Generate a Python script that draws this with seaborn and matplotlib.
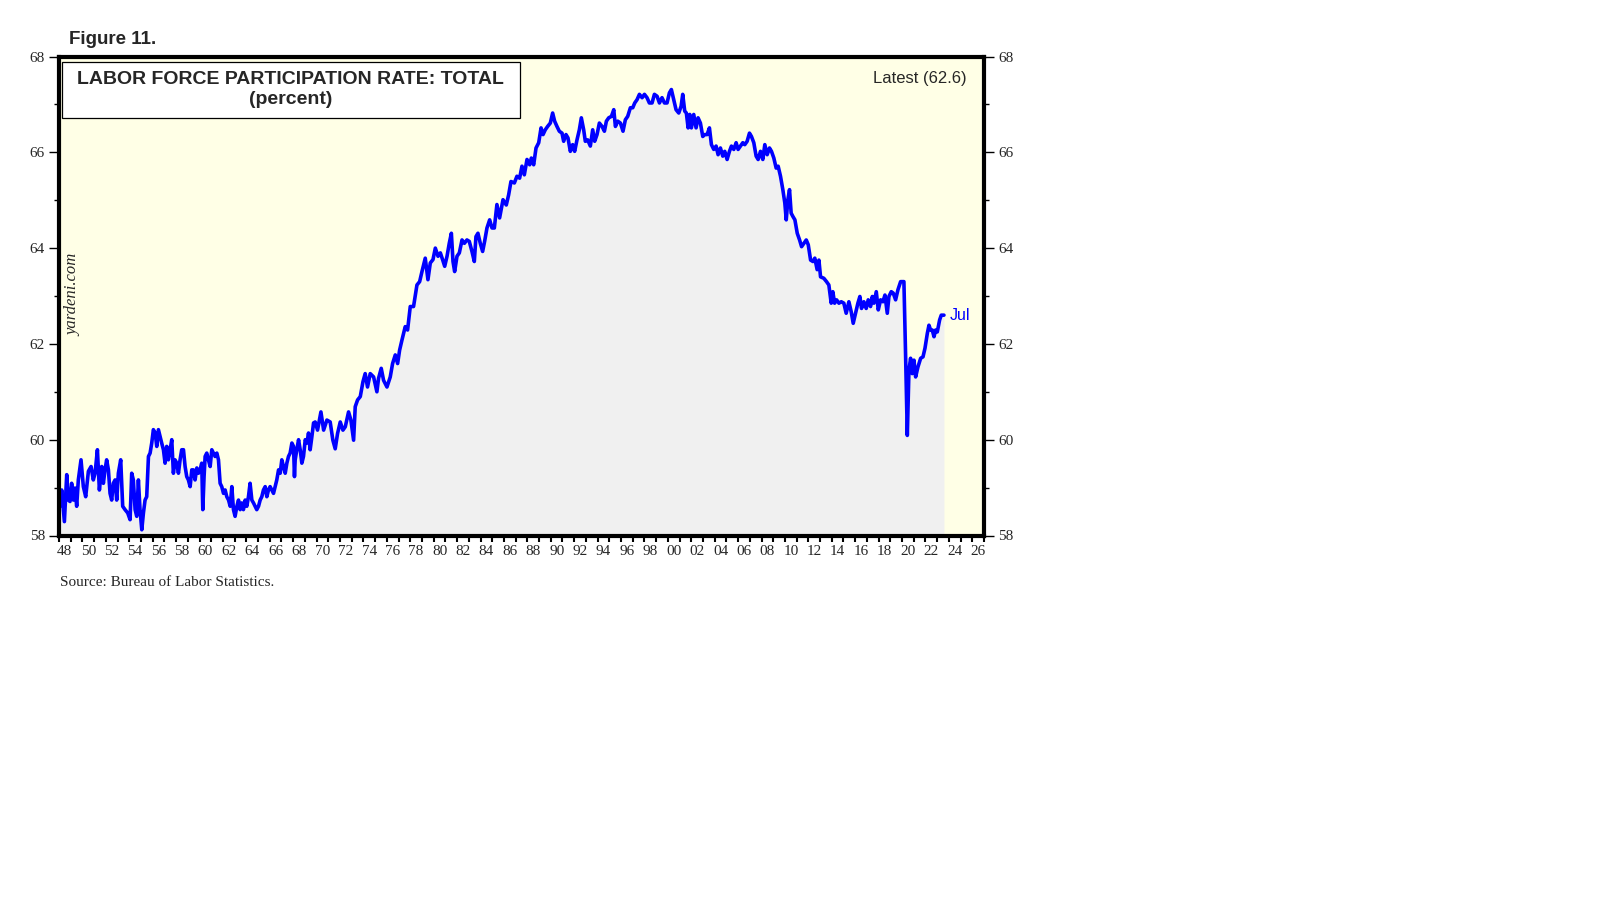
import numpy as np
import pandas as pd
import matplotlib
matplotlib.use("Agg")
import matplotlib.pyplot as plt
import seaborn as sns
from matplotlib.patches import Rectangle
from matplotlib.ticker import NullFormatter

# ---------------- data ----------------
dates = [
    1948.09, 1948.23, 1948.46, 1948.66, 1948.80, 1948.94, 1949.08, 1949.23, 1949.37, 1949.51,
    1949.65, 1949.88, 1950.08, 1950.28, 1950.51, 1950.74, 1950.93, 1951.08, 1951.28, 1951.45,
    1951.65, 1951.79, 1951.93, 1952.07, 1952.22, 1952.36, 1952.50, 1952.64, 1952.79, 1952.93,
    1953.07, 1953.27, 1953.44, 1953.64, 1953.87, 1954.07, 1954.21, 1954.35, 1954.50, 1954.64,
    1954.78, 1954.92, 1955.07, 1955.21, 1955.35, 1955.49, 1955.64, 1955.78, 1955.92, 1956.06,
    1956.21, 1956.35, 1956.49, 1956.63, 1956.77, 1956.92, 1957.06, 1957.20, 1957.34, 1957.49,
    1957.63, 1957.77, 1957.91, 1958.06, 1958.20, 1958.34, 1958.48, 1958.63, 1958.77, 1958.91,
    1959.05, 1959.20, 1959.34, 1959.48, 1959.62, 1959.77, 1959.91, 1960.05, 1960.19, 1960.28,
    1960.39, 1960.48, 1960.62, 1960.76, 1960.91, 1961.05, 1961.19, 1961.33, 1961.48, 1961.62,
    1961.76, 1961.90, 1962.05, 1962.19, 1962.33, 1962.48, 1962.62, 1962.76, 1962.90, 1963.04,
    1963.19, 1963.33, 1963.47, 1963.61, 1963.75, 1963.90, 1964.04, 1964.18, 1964.32, 1964.47,
    1964.61, 1964.75, 1964.89, 1965.04, 1965.18, 1965.32, 1965.46, 1965.61, 1965.75, 1965.89,
    1966.03, 1966.18, 1966.32, 1966.46, 1966.60, 1966.75, 1966.89, 1967.03, 1967.17, 1967.32,
    1967.46, 1967.60, 1967.74, 1967.89, 1968.03, 1968.11, 1968.17, 1968.31, 1968.46, 1968.60,
    1968.74, 1968.88, 1969.03, 1969.17, 1969.31, 1969.45, 1969.60, 1969.74,
    1969.88, 1970.08, 1970.37, 1970.60, 1970.88, 1971.16, 1971.39, 1971.59, 1971.79, 1972.02,
    1972.25, 1972.45, 1972.73, 1972.93, 1973.16, 1973.30, 1973.50, 1973.73, 1973.96, 1974.15,
    1974.35, 1974.58, 1974.87, 1975.15, 1975.29, 1975.52, 1975.72, 1976.01, 1976.29, 1976.49,
    1976.72, 1976.92, 1977.09, 1977.29, 1977.57, 1977.77, 1978.00, 1978.28, 1978.57, 1978.80,
    1979.00, 1979.28, 1979.51, 1979.71, 1979.94, 1980.14, 1980.37, 1980.57, 1980.76, 1980.94,
    1981.14, 1981.33, 1981.51, 1981.65, 1981.79, 1981.99, 1982.19, 1982.42, 1982.62, 1982.84,
    1983.04, 1983.27, 1983.47, 1983.61, 1983.78, 1983.98, 1984.18, 1984.35, 1984.55, 1984.78,
    1984.98, 1985.18, 1985.40, 1985.63,
    1985.92, 1986.20, 1986.40, 1986.60, 1986.89, 1987.11, 1987.34, 1987.54, 1987.74, 1987.97,
    1988.20, 1988.34, 1988.54, 1988.74, 1988.97, 1989.17, 1989.34, 1989.53, 1989.73, 1989.96,
    1990.16, 1990.33, 1990.53, 1990.73, 1990.96, 1991.10, 1991.30, 1991.47, 1991.67, 1991.87,
    1992.04, 1992.24, 1992.44, 1992.61, 1992.81, 1992.95, 1993.15, 1993.38, 1993.58, 1993.75,
    1993.95, 1994.15, 1994.38, 1994.58, 1994.75, 1994.95, 1995.18, 1995.38, 1995.52, 1995.72,
    1995.95, 1996.17, 1996.37, 1996.57, 1996.80, 1997.00, 1997.17, 1997.37, 1997.57, 1997.80,
    1998.00, 1998.22, 1998.42, 1998.65, 1998.85, 1999.08, 1999.28, 1999.50, 1999.71, 1999.93,
    2000.13, 2000.30, 2000.50, 2000.70, 2000.93, 2001.13, 2001.27, 2001.44, 2001.58, 2001.73,
    2001.87, 2002.01, 2002.21, 2002.41, 2002.58, 2002.78, 2002.98, 2003.15, 2003.35, 2003.55,
    2003.72, 2003.92, 2004.12, 2004.29, 2004.49, 2004.69, 2004.86, 2005.06, 2005.26, 2005.43,
    2005.63, 2005.83, 2006.00, 2006.20, 2006.40, 2006.57, 2006.77, 2006.97, 2007.14, 2007.34,
    2007.54, 2007.71, 2007.91, 2008.11, 2008.28, 2008.48, 2008.68, 2008.85, 2009.05, 2009.25,
    2009.42, 2009.62, 2009.82, 2009.99, 2010.11, 2010.25, 2010.39, 2010.53, 2010.68, 2010.85,
    2011.05, 2011.25, 2011.42, 2011.62, 2011.82, 2011.99, 2012.19, 2012.39, 2012.55, 2012.75,
    2012.90,
    2013.04, 2013.32, 2013.55, 2013.75, 2013.95, 2014.09, 2014.24, 2014.41, 2014.61, 2014.81,
    2015.03, 2015.23, 2015.46, 2015.66, 2015.83, 2016.03, 2016.23, 2016.40, 2016.54, 2016.74,
    2016.94, 2017.11, 2017.31, 2017.46, 2017.60, 2017.80, 2017.97, 2018.17, 2018.37, 2018.54,
    2018.74, 2018.88, 2019.08, 2019.25, 2019.45, 2019.65, 2019.88, 2020.16, 2020.30, 2020.45,
    2020.59, 2020.73, 2020.87, 2021.02, 2021.16, 2021.36, 2021.59, 2021.79, 2021.96, 2022.16,
    2022.30, 2022.44, 2022.58, 2022.73, 2022.87, 2023.01, 2023.21, 2023.35, 2023.58,
]

rate = [
    58.61, 58.95, 58.29, 59.27, 58.74, 58.71, 59.09, 58.74, 58.99, 58.61,
    59.16, 59.58, 59.02, 58.81, 59.34, 59.44, 59.16, 59.30, 59.79, 58.95,
    59.44, 59.09, 59.37, 59.58, 59.37, 58.88, 58.74, 59.09, 59.16, 58.74,
    59.30, 59.58, 58.61, 58.54, 58.47, 58.33, 59.30, 59.16, 58.54, 58.40,
    59.16, 58.54, 58.12, 58.47, 58.74, 58.81, 59.65, 59.72, 59.93, 60.21,
    60.14, 59.86, 60.21, 60.07, 59.93, 59.79, 59.51, 59.86, 59.58, 59.79,
    60.00, 59.30, 59.58, 59.51, 59.30, 59.58, 59.79, 59.79, 59.44, 59.23,
    59.16, 59.02, 59.37, 59.37, 59.16, 59.41, 59.30, 59.37, 59.51, 58.54,
    59.23, 59.65, 59.72, 59.58, 59.44, 59.79, 59.72, 59.65, 59.72, 59.58,
    59.09, 59.02, 58.88, 58.95, 58.81, 58.74, 58.61, 59.02, 58.54, 58.40,
    58.61, 58.74, 58.54, 58.68, 58.54, 58.74, 58.61, 58.81, 59.09, 58.74,
    58.68, 58.61, 58.54, 58.61, 58.74, 58.81, 58.95, 59.02, 58.81, 58.95,
    59.02, 58.95, 58.88, 59.02, 59.16, 59.37, 59.30, 59.58, 59.44, 59.30,
    59.51, 59.65, 59.72, 59.93, 59.86, 59.23, 59.58, 59.79, 60.00, 59.79,
    59.51, 59.65, 60.00, 59.93, 60.14, 59.79, 60.07, 60.35,
    60.37, 60.20, 60.58, 60.20, 60.41, 60.37, 59.99, 59.81, 60.13, 60.37,
    60.20, 60.27, 60.58, 60.41, 59.99, 60.69, 60.83, 60.90, 61.21, 61.38,
    61.10, 61.38, 61.31, 61.00, 61.28, 61.49, 61.24, 61.10, 61.31, 61.59,
    61.77, 61.59, 61.87, 62.08, 62.36, 62.29, 62.78, 62.78, 63.23, 63.30,
    63.51, 63.79, 63.34, 63.69, 63.76, 64.00, 63.83, 63.90, 63.76, 63.62,
    63.83, 64.10, 64.31, 63.72, 63.51, 63.83, 63.90, 64.17, 64.10, 64.17,
    64.14, 63.93, 63.72, 64.24, 64.31, 64.10, 63.93, 64.14, 64.42, 64.59,
    64.42, 64.42, 64.91, 64.63,
    65.01, 64.90, 65.11, 65.39, 65.36, 65.50, 65.46, 65.71, 65.53, 65.85,
    65.74, 65.88, 65.74, 66.09, 66.20, 66.51, 66.37, 66.47, 66.54, 66.61,
    66.82, 66.65, 66.54, 66.44, 66.40, 66.23, 66.37, 66.30, 66.02, 66.16,
    66.02, 66.26, 66.47, 66.72, 66.47, 66.23, 66.26, 66.13, 66.47, 66.23,
    66.37, 66.61, 66.54, 66.44, 66.65, 66.72, 66.75, 66.89, 66.54, 66.65,
    66.61, 66.44, 66.68, 66.75, 66.93, 66.93, 67.03, 67.10, 67.21, 67.14,
    67.21, 67.14, 67.03, 67.03, 67.21, 67.17, 67.03, 67.14, 67.03, 67.03,
    67.24, 67.31, 67.10, 66.89, 66.82, 66.96, 67.21, 66.86, 66.82, 66.51,
    66.79, 66.51, 66.79, 66.51, 66.72, 66.61, 66.33, 66.37, 66.37, 66.51,
    66.16, 66.06, 66.13, 65.95, 66.09, 65.92, 66.02, 65.85, 66.02, 66.13,
    66.06, 66.20, 66.06, 66.13, 66.20, 66.16, 66.23, 66.40, 66.33, 66.20,
    65.92, 65.85, 66.02, 65.85, 66.16, 65.95, 66.09, 66.02, 65.88, 65.67,
    65.71, 65.50, 65.22, 64.94, 64.59, 65.01, 65.22, 64.73, 64.66, 64.59,
    64.31, 64.17, 64.03, 64.10, 64.17, 64.07, 63.75, 63.72, 63.79, 63.55,
    63.75,
    63.40, 63.37, 63.30, 63.23, 62.85, 63.09, 62.85, 62.92, 62.85, 62.88,
    62.85, 62.64, 62.88, 62.67, 62.43, 62.64, 62.85, 62.99, 62.74, 62.88,
    62.74, 62.92, 62.78, 62.99, 62.85, 63.09, 62.71, 62.92, 62.88, 63.02,
    62.64, 62.99, 63.09, 63.06, 62.92, 63.13, 63.30, 63.30, 61.80, 60.09,
    61.45, 61.70, 61.38, 61.66, 61.31, 61.52, 61.70, 61.73, 61.91, 62.22,
    62.39, 62.29, 62.29, 62.15, 62.29, 62.25, 62.50, 62.60, 62.60,
]

x_label_years = list(range(1948, 2027, 2))
x_labels = [f"{y % 100:02d}" for y in x_label_years]
y_major = [58, 60, 62, 64, 66, 68]
y_minor = [59, 61, 63, 65, 67]

fig_label = "Figure 11."
title = "LABOR FORCE PARTICIPATION RATE: TOTAL"
subtitle = "(percent)"
latest_label = "Latest (62.6)"
end_label = "Jul"
watermark = "yardeni.com"
source = "Source: Bureau of Labor Statistics."

# ---------------- style ----------------
sns.set_style("white")
plt.rcParams["font.family"] = ["Liberation Sans", "DejaVu Sans"]
SERIF = ["Liberation Serif", "DejaVu Serif"]

W, H = 1610, 910
fig = plt.figure(figsize=(W / 100, H / 100), dpi=100)
fig.patch.set_facecolor("white")
L, R, T, B = 59, 984, 56.5, 535.5
ax = fig.add_axes([L / W, 1 - B / H, (R - L) / W, (B - T) / H])
ax.set_facecolor("#FFFFE6")

df = pd.DataFrame({"date": dates, "rate": rate})
ax.fill_between(df["date"], 58, df["rate"], color="#F0F0F0", lw=0, zorder=1)
sns.lineplot(data=df, x="date", y="rate", ax=ax, color="#0000FF", lw=2.6,
             estimator=None, sort=False, zorder=3)

ax.set_xlim(1948, 2027)
ax.set_ylim(58, 68)
ax.set_xlabel("")
ax.set_ylabel("")
for s in ax.spines.values():
    s.set_visible(True)
    s.set_linewidth(3)
    s.set_color("black")
    s.set_zorder(5)

# y ticks both sides
ax.set_yticks(y_major)
ax.set_yticks(y_minor, minor=True)
ax.tick_params(axis="y", which="both", left=True, right=True, labelleft=True,
               labelright=True, direction="out", color="black")
ax.tick_params(axis="y", which="major", length=7, width=1, pad=3,
               labelsize=11, labelfontfamily="Liberation Serif")
ax.tick_params(axis="y", which="minor", length=3.5, width=1)

# x ticks: marks at year boundaries, labels centred within the year
ax.set_xticks(np.arange(1948, 2028))
ax.xaxis.set_major_formatter(NullFormatter())
ax.set_xticks([y + 0.5 for y in x_label_years], minor=True)
ax.set_xticklabels(x_labels, minor=True)
ax.tick_params(axis="x", which="major", bottom=True, direction="out", length=4,
               width=1.5, color="black")
ax.tick_params(axis="x", which="minor", bottom=True, length=0, pad=6.5,
               labelsize=11, labelfontfamily="Liberation Serif")

# end label
ax.annotate(end_label, xy=(dates[-1], rate[-1]), xytext=(4, 0),
            textcoords="offset points", color="#0000FF", fontsize=11.5,
            ha="left", va="center", zorder=6)

# ---------------- figure texts ----------------
fig.text(69 / W, 1 - 39 / H, fig_label, fontsize=13.5, weight="bold",
         ha="left", va="center")

box = Rectangle((61.6 / W, 1 - 118 / H), (519.5 - 61.6) / W, (118 - 61.6) / H,
                transform=fig.transFigure, facecolor="white", edgecolor="black",
                lw=0.9, zorder=5)
fig.add_artist(box)
fig.text(290.5 / W, 1 - 79 / H, title, ha="center", va="center", fontsize=14,
         weight="bold", zorder=6)
fig.text(290.5 / W, 1 - 99 / H, subtitle, ha="center", va="center", fontsize=14,
         weight="bold", zorder=6)

fig.text(967 / W, 1 - 78 / H, latest_label, ha="right", va="center",
         fontsize=12, zorder=6)

fig.text(73 / W, 1 - 295 / H, watermark, rotation=90, ha="center", va="center",
         fontsize=12, style="italic", family=SERIF, zorder=6)

fig.text(60 / W, 1 - 583 / H, source, ha="left", va="center", fontsize=11,
         family=SERIF)

fig.savefig("out.png", dpi=100, facecolor="white")
